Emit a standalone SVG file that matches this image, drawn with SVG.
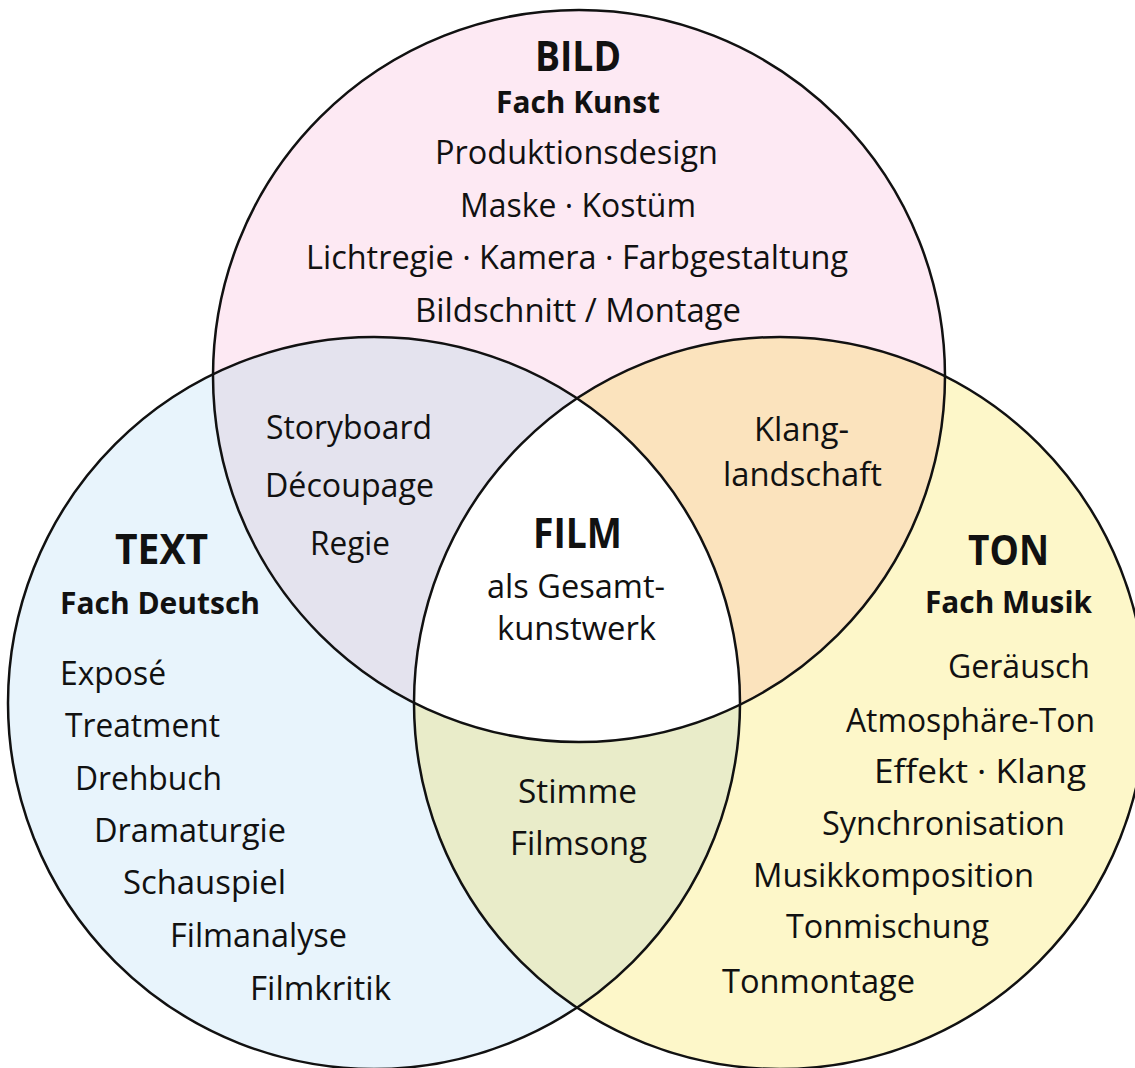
<svg xmlns="http://www.w3.org/2000/svg" width="1135" height="1068" viewBox="0 0 1135 1068">
<style>
  text { font-family: "Open Sans", "Noto Sans", "DejaVu Sans", sans-serif; fill: #111; }
  .r { font-size: 32px; font-weight: 400; }
  .h { font-size: 41px; font-weight: 700; }
  .s { font-size: 30px; font-weight: 700; }
  .outline { fill: none; stroke: #111; stroke-width: 2.5; }
</style>
<defs>
  <clipPath id="cTop"><circle cx="579" cy="376" r="366"/></clipPath>
  <clipPath id="cLeft"><circle cx="374" cy="703" r="366"/></clipPath>
  <clipPath id="cRight"><circle cx="780" cy="703" r="366"/></clipPath>
</defs>
<rect width="1135" height="1068" fill="#ffffff"/>
<g id="fills">
  <circle cx="579" cy="376" r="366" fill="#fde9f3"/>
  <circle cx="374" cy="703" r="366" fill="#e8f4fc"/>
  <circle cx="780" cy="703" r="366" fill="#fdf7c9"/>
  <circle cx="374" cy="703" r="366" fill="#e4e3ee" clip-path="url(#cTop)"/>
  <circle cx="780" cy="703" r="366" fill="#fbe3bd" clip-path="url(#cTop)"/>
  <circle cx="780" cy="703" r="366" fill="#e9ecc9" clip-path="url(#cLeft)"/>
  <g clip-path="url(#cTop)">
    <circle cx="780" cy="703" r="366" fill="#ffffff" clip-path="url(#cLeft)"/>
  </g>
</g>
<g id="connectors">
  <circle class="outline" cx="579" cy="376" r="366"/>
  <circle class="outline" cx="374" cy="703" r="366"/>
  <circle class="outline" cx="780" cy="703" r="366"/>
</g>
<g id="bild">
  <text class="h" x="535" y="71" textLength="86" lengthAdjust="spacingAndGlyphs">BILD</text>
  <text class="s" x="496" y="113" textLength="164" lengthAdjust="spacingAndGlyphs">Fach Kunst</text>
  <text class="r" x="435" y="164" textLength="283" lengthAdjust="spacingAndGlyphs">Produktionsdesign</text>
  <text class="r" x="460" y="217" textLength="236" lengthAdjust="spacingAndGlyphs">Maske · Kostüm</text>
  <text class="r" x="306" y="269" textLength="542" lengthAdjust="spacingAndGlyphs">Lichtregie · Kamera · Farbgestaltung</text>
  <text class="r" x="415" y="322" textLength="326" lengthAdjust="spacingAndGlyphs">Bildschnitt / Montage</text>
</g>
<g id="bild-text">
  <text class="r" x="266" y="439" textLength="166" lengthAdjust="spacingAndGlyphs">Storyboard</text>
  <text class="r" x="265" y="497" textLength="169" lengthAdjust="spacingAndGlyphs">Découpage</text>
  <text class="r" x="310" y="555" textLength="80" lengthAdjust="spacingAndGlyphs">Regie</text>
</g>
<g id="bild-ton">
  <text class="r" x="754" y="441" textLength="95" lengthAdjust="spacingAndGlyphs">Klang-</text>
  <text class="r" x="723" y="486" textLength="159" lengthAdjust="spacingAndGlyphs">landschaft</text>
</g>
<g id="film">
  <text class="h" x="533" y="548" textLength="89" lengthAdjust="spacingAndGlyphs">FILM</text>
  <text class="r" x="487" y="598" textLength="178" lengthAdjust="spacingAndGlyphs">als Gesamt-</text>
  <text class="r" x="497" y="640" textLength="159" lengthAdjust="spacingAndGlyphs">kunstwerk</text>
</g>
<g id="text">
  <text class="h" x="115" y="564" textLength="93" lengthAdjust="spacingAndGlyphs">TEXT</text>
  <text class="s" x="60" y="614" textLength="200" lengthAdjust="spacingAndGlyphs">Fach Deutsch</text>
  <text class="r" x="60" y="685" textLength="106" lengthAdjust="spacingAndGlyphs">Exposé</text>
  <text class="r" x="65" y="737" textLength="155" lengthAdjust="spacingAndGlyphs">Treatment</text>
  <text class="r" x="75" y="790" textLength="147" lengthAdjust="spacingAndGlyphs">Drehbuch</text>
  <text class="r" x="94" y="842" textLength="192" lengthAdjust="spacingAndGlyphs">Dramaturgie</text>
  <text class="r" x="123" y="894" textLength="163" lengthAdjust="spacingAndGlyphs">Schauspiel</text>
  <text class="r" x="170" y="947" textLength="177" lengthAdjust="spacingAndGlyphs">Filmanalyse</text>
  <text class="r" x="250" y="1000" textLength="141" lengthAdjust="spacingAndGlyphs">Filmkritik</text>
</g>
<g id="text-ton">
  <text class="r" x="518" y="803" textLength="119" lengthAdjust="spacingAndGlyphs">Stimme</text>
  <text class="r" x="510" y="855" textLength="137" lengthAdjust="spacingAndGlyphs">Filmsong</text>
</g>
<g id="ton">
  <text class="h" x="968" y="565" textLength="81" lengthAdjust="spacingAndGlyphs">TON</text>
  <text class="s" x="925" y="613" textLength="167" lengthAdjust="spacingAndGlyphs">Fach Musik</text>
  <text class="r" x="948" y="678" textLength="142" lengthAdjust="spacingAndGlyphs">Geräusch</text>
  <text class="r" x="846" y="732" textLength="249" lengthAdjust="spacingAndGlyphs">Atmosphäre-Ton</text>
  <text class="r" x="874" y="783" textLength="212" lengthAdjust="spacingAndGlyphs">Effekt  ·  Klang</text>
  <text class="r" x="822" y="835" textLength="243" lengthAdjust="spacingAndGlyphs">Synchronisation</text>
  <text class="r" x="753" y="887" textLength="281" lengthAdjust="spacingAndGlyphs">Musikkomposition</text>
  <text class="r" x="786" y="938" textLength="203" lengthAdjust="spacingAndGlyphs">Tonmischung</text>
  <text class="r" x="722" y="993" textLength="193" lengthAdjust="spacingAndGlyphs">Tonmontage</text>
</g>
</svg>
